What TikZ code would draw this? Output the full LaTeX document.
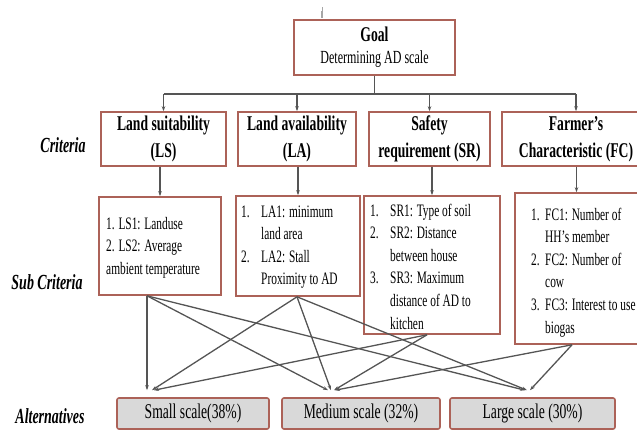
\documentclass[tikz,border=0pt]{standalone}
\usepackage{fontspec}
\setmainfont{Liberation Serif}[FakeStretch=0.65]
\usetikzlibrary{arrows.meta,calc}
\definecolor{boxred}{RGB}{172,98,88}
\definecolor{linegray}{RGB}{85,85,85}
\definecolor{altfill}{RGB}{217,217,217}
\begin{document}
\begin{tikzpicture}[x=1pt,y=-1pt,
  box/.style={draw=boxred,line width=1.6pt,fill=white,inner sep=0pt},
  crit/.style={box,align=center,font=\fontsize{21}{27}\selectfont\bfseries},
  alt/.style={draw=boxred,line width=1.6pt,fill=altfill,rounded corners=2pt,inner sep=0pt,font=\fontsize{21}{24}\selectfont},
  lab/.style={font=\fontsize{21.5}{24}\selectfont\bfseries\itshape},
  subtxt/.style={anchor=base west,inner sep=0pt,font=\fontsize{17.5}{22.6}\selectfont},
  busline/.style={draw=linegray,line width=1.3pt},
  conn/.style={draw=linegray,line width=1.3pt,-{Stealth[length=5pt,width=3.5pt]}},
]
\useasboundingbox (0,0) rectangle (637,434);
\clip (0,0) rectangle (637,434);

% goal
\node[box,minimum width=161pt,minimum height=55pt,align=center,font=\fontsize{18.5}{22}\selectfont] (goal) at (374.5,47.5)
  {{\bfseries\fontsize{21}{22}\selectfont Goal}\\Determining AD scale};
\draw[gray!70,line width=0.5pt] ($(goal.north west)+(29,-2)$) -- ++(0,-10);
\draw[gray!70,line width=2.5pt] ($(goal.north west)+(29,-1)$) -- ++(0,-7);

% criteria
\node[crit,minimum width=125pt,minimum height=54pt] (ls) at (163.5,139) {Land suitability\\(LS)};
\node[crit,minimum width=118pt,minimum height=54pt] (la) at (297,139) {Land availability\\(LA)};
\node[crit,minimum width=121pt,minimum height=54pt] (sr) at (429.5,139) {Safety\\requirement (SR)};
\node[crit,minimum width=148pt,minimum height=54pt] (fc) at (576,139) {Farmer’s\\Characteristic (FC)};

% bus
\coordinate (busL) at (163.5,94);
\coordinate (busR) at (576,94);
\draw[busline] (goal.south) -- (goal.south |- busL);
\draw[busline] (busL) -- (busR);
\draw[conn] (ls.north |- busL) -- (ls.north);
\draw[conn] (la.north |- busL) -- (la.north);
\draw[conn] (sr.north |- busL) -- (sr.north);
\draw[conn] (fc.north |- busL) -- (fc.north);

% sub criteria boxes
\node[box,minimum width=122pt,minimum height=98pt] (lss) at (160,246) {};
\node[box,minimum width=124pt,minimum height=100pt] (las) at (298,246) {};
\node[box,minimum width=136pt,minimum height=138pt] (srs) at (432,265) {};
\node[box,minimum width=123pt,minimum height=151pt] (fcs) at (576.5,268.5) {};

\draw[conn] (lss.north |- ls.south) -- (lss.north);
\draw[conn] (las.north |- la.south) -- (las.north);
\draw[conn] (srs.north |- sr.south) -- (srs.north);
\draw[conn] (fcs.north |- fc.south) -- (fcs.north);

% sub criteria texts
\node[subtxt] (lst) at (106,229) {\begin{tabular}[t]{@{}l@{}}1. LS1: Landuse\\2. LS2: Average\\ambient temperature\end{tabular}};
\node[subtxt] (lat) at (241,217) {\begin{tabular}[t]{@{}p{20pt}@{}l@{}}1. & LA1: minimum\\ & land area\\2. & LA2: Stall\\ & Proximity to AD\end{tabular}};
\node[subtxt] (srt) at (370,216) {\begin{tabular}[t]{@{}p{20pt}@{}l@{}}1. & SR1: Type of soil\\2. & SR2: Distance\\ & between house\\3. & SR3: Maximum\\ & distance of AD to\\ & kitchen\end{tabular}};
\node[subtxt] (fct) at (531,220) {\begin{tabular}[t]{@{}p{14pt}@{}l@{}}1. & FC1: Number of\\ & HH’s member\\2. & FC2: Number of\\ & cow\\3. & FC3: Interest to use\\ & biogas\end{tabular}};

% alternatives
\node[alt,minimum width=152pt,minimum height=31pt] (small) at (193,413.5) {Small scale(38\%)};
\node[alt,minimum width=158pt,minimum height=31pt] (medium) at (361,413.5) {Medium scale (32\%)};
\node[alt,minimum width=165pt,minimum height=31pt] (large) at (532.5,413.5) {Large scale (30\%)};

% connectors
\draw[conn] ($(lss.south)+(-13,0)$) -- ($(small.north)+(-46,-7)$);
\draw[conn] ($(lss.south)+(-13,0)$) -- ($(medium.north)+(-33,-7)$);
\draw[conn] ($(lss.south)+(-13,0)$) -- ($(large.north)+(-7.5,-7)$);
\draw[conn] ($(las.south)+(-1,0)$) -- ($(small.north)+(-41,-7)$);
\draw[conn] ($(las.south)+(-1,0)$) -- ($(medium.north)+(-30,-7)$);
\draw[conn] ($(las.south)+(-1,0)$) -- ($(large.north)+(-5.5,-7)$);
\draw[conn] ($(srs.south)+(-5,0)$) -- ($(small.north)+(-39,-7)$);
\draw[conn] ($(srs.south)+(-5,0)$) -- ($(medium.north)+(-27,-7)$);
\draw[conn] ($(fcs.south)+(-4.5,0)$) -- ($(medium.north)+(-26,-7)$);
\draw[conn] ($(fcs.south)+(-4.5,0)$) -- ($(large.north)+(-2.5,-7)$);

% row labels
\node[lab] (lc) at (63,145) {Criteria};
\node[lab] (lsc) at (47,282) {Sub Criteria};
\node[lab] (lal) at (50,416) {Alternatives};
\end{tikzpicture}
\end{document}
